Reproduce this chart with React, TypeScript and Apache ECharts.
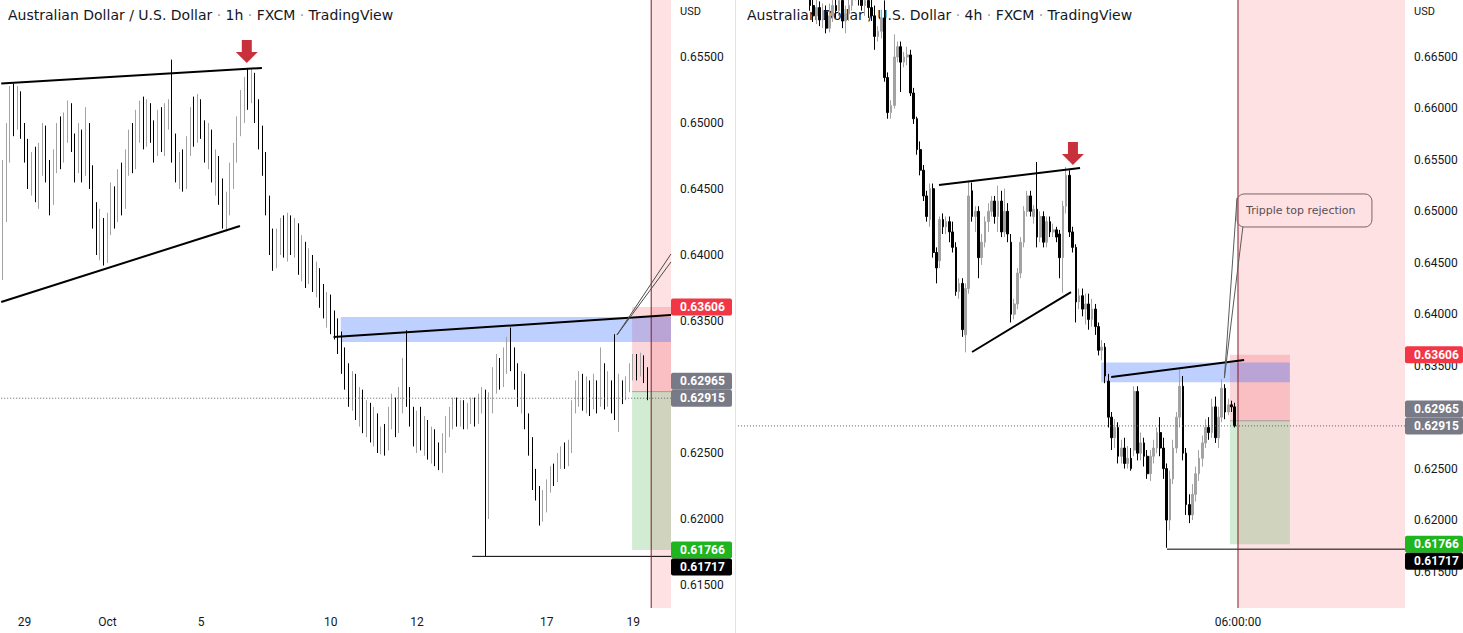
import React, { useEffect, useRef } from 'react';
import * as echarts from 'echarts';

const PIP = 0.0001;

// AUD/USD, left panel candles [open, close, low, high] in pips (x 0.0001)
const leftCandles: number[][] = [
  [6400,6430,6381,6472],[6430,6480,6425,6500],[6480,6515,6470,6528],[6515,6505,6490,6530],[6505,6520,6495,6528],
  [6520,6495,6488,6524],[6495,6480,6470,6500],[6480,6460,6450,6488],[6460,6470,6445,6478],[6470,6450,6440,6482],
  [6450,6470,6435,6485],[6470,6490,6460,6500],[6490,6465,6455,6498],[6465,6445,6430,6472],[6445,6470,6438,6480],
  [6470,6490,6462,6500],[6490,6475,6465,6505],[6475,6495,6470,6508],[6495,6510,6485,6517],[6510,6485,6478,6515],
  [6485,6470,6455,6492],[6470,6490,6462,6500],[6490,6465,6455,6495],[6465,6495,6460,6512],[6495,6460,6450,6500],
  [6460,6430,6420,6468],[6430,6410,6400,6440],[6410,6420,6396,6435],[6420,6400,6392,6428],[6400,6425,6394,6432],
  [6425,6445,6415,6455],[6445,6430,6420,6452],[6430,6455,6425,6465],[6455,6440,6430,6470],[6440,6470,6435,6480],
  [6470,6485,6460,6495],[6485,6470,6462,6500],[6470,6495,6465,6510],[6495,6505,6485,6517],[6505,6490,6480,6520],
  [6490,6510,6482,6518],[6510,6495,6485,6515],[6495,6480,6470,6502],[6480,6500,6475,6510],[6500,6485,6478,6512],
  [6485,6505,6475,6515],[6505,6510,6495,6518],[6510,6485,6470,6548],[6485,6465,6455,6492],[6465,6470,6450,6478],
  [6470,6455,6448,6480],[6455,6480,6450,6490],[6480,6500,6475,6512],[6500,6490,6482,6520],[6490,6510,6485,6522],
  [6510,6495,6488,6518],[6495,6480,6470,6502],[6480,6490,6465,6500],[6490,6465,6455,6495],[6465,6470,6445,6480],
  [6470,6450,6438,6475],[6450,6430,6420,6458],[6430,6440,6418,6448],[6440,6460,6430,6470],[6460,6475,6450,6485],
  [6475,6500,6470,6505],[6500,6510,6490,6525],[6510,6530,6500,6535],[6530,6520,6510,6541],[6520,6535,6515,6541],
  [6535,6510,6500,6538],[6510,6490,6480,6518],[6490,6470,6460,6498],[6470,6440,6430,6478],[6440,6410,6400,6445],
  [6410,6395,6388,6420],[6395,6410,6390,6420],[6410,6420,6400,6428],[6420,6405,6398,6430],[6405,6425,6395,6432],
  [6425,6410,6400,6430],[6410,6420,6398,6428],[6420,6395,6385,6424],[6395,6405,6380,6415],[6405,6385,6375,6410],
  [6385,6395,6378,6405],[6395,6380,6372,6400],[6380,6385,6368,6395],[6385,6370,6360,6390],[6370,6360,6352,6378],
  [6360,6365,6345,6372],[6365,6350,6340,6370],[6350,6345,6336,6358],[6345,6335,6325,6352],[6335,6320,6310,6342],
  [6320,6310,6298,6330],[6310,6295,6285,6318],[6295,6305,6282,6312],[6305,6285,6275,6310],[6285,6292,6270,6300],
  [6292,6275,6265,6298],[6275,6282,6262,6290],[6282,6268,6258,6288],[6268,6275,6255,6285],[6275,6258,6250,6280],
  [6258,6262,6249,6270],[6262,6255,6248,6272],[6255,6275,6252,6285],[6275,6285,6268,6295],[6285,6270,6262,6292],
  [6270,6290,6265,6300],[6290,6305,6280,6322],[6305,6295,6285,6343],[6295,6280,6270,6300],[6280,6262,6255,6285],
  [6262,6275,6250,6282],[6275,6260,6252,6285],[6260,6270,6248,6278],[6270,6255,6245,6275],[6255,6262,6242,6270],
  [6262,6250,6240,6268],[6250,6245,6237,6258],[6245,6260,6235,6265],[6260,6270,6250,6278],[6270,6275,6262,6285],
  [6275,6285,6268,6292],[6285,6278,6270,6292],[6278,6282,6270,6290],[6282,6275,6268,6290],[6275,6280,6268,6288],
  [6280,6285,6272,6292],[6285,6278,6270,6292],[6278,6288,6272,6295],[6288,6292,6280,6300],[6292,6205,6172,6298],
  [6205,6290,6200,6296],[6290,6300,6280,6315],[6300,6315,6295,6325],[6315,6305,6298,6322],[6305,6320,6300,6330],
  [6320,6330,6310,6338],[6330,6320,6312,6345],[6320,6310,6298,6330],[6310,6295,6285,6318],[6295,6305,6280,6312],
  [6305,6275,6268,6310],[6275,6255,6248,6280],[6255,6230,6222,6262],[6230,6220,6214,6238],[6220,6205,6195,6225],
  [6205,6215,6198,6222],[6215,6225,6205,6230],[6225,6235,6220,6240],[6235,6232,6225,6242],[6232,6245,6228,6250],
  [6245,6250,6238,6255],[6250,6245,6238,6258],[6245,6255,6240,6260],[6255,6285,6250,6290],[6285,6295,6280,6305],
  [6295,6300,6285,6312],[6300,6290,6282,6310],[6290,6300,6280,6308],[6300,6288,6278,6305],[6288,6300,6283,6310],
  [6300,6292,6280,6305],[6292,6310,6285,6330],[6310,6295,6283,6318],[6295,6300,6285,6312],[6300,6290,6280,6305],
  [6290,6278,6275,6340],[6278,6300,6266,6310],[6300,6295,6287,6305],[6295,6300,6290,6308],[6300,6310,6296,6318],
  [6310,6318,6305,6325],[6318,6312,6305,6325],[6312,6320,6308,6326],[6320,6310,6303,6324],[6310,6291.5,6290,6315],
];

// right panel (4h) candles [open, close, low, high] in pips, first one at bar rightFirstIndex
const rightFirstIndex = 24;
const rightCandles: number[][] = [
  [6712,6700,6695,6725],[6700,6690,6684,6708],[6690,6698,6682,6706],[6698,6686,6680,6704],[6686,6694,6678,6702],
  [6694,6678,6673,6700],[6678,6690,6674,6702],[6690,6700,6684,6712],[6700,6695,6688,6715],[6695,6705,6690,6718],
  [6705,6685,6678,6710],[6685,6692,6673,6700],[6692,6700,6685,6712],[6700,6712,6695,6725],[6712,6718,6705,6730],
  [6718,6710,6700,6728],[6710,6700,6695,6715],[6700,6705,6690,6712],[6705,6698,6688,6712],[6698,6690,6685,6710],
  [6690,6670,6657,6700],[6670,6675,6665,6680],[6675,6688,6668,6696],[6688,6630,6626,6705],[6630,6596,6590,6635],
  [6596,6603,6590,6608],[6603,6650,6600,6672],[6650,6660,6645,6665],[6660,6645,6616,6665],[6645,6650,6640,6655],
  [6650,6652,6642,6660],[6652,6615,6612,6657],[6615,6590,6585,6620],[6590,6560,6555,6592],[6560,6540,6535,6568],
  [6540,6515,6510,6545],[6515,6495,6490,6520],[6492,6522,6485,6527],[6522,6460,6455,6527],[6460,6445,6430,6465],
  [6452,6492,6445,6495],[6492,6485,6478,6498],[6485,6490,6478,6495],[6490,6480,6470,6495],[6480,6465,6460,6490],
  [6465,6422,6418,6470],[6422,6430,6415,6435],[6430,6385,6378,6435],[6380,6425,6363,6430],[6425,6515,6420,6530],
  [6520,6495,6490,6528],[6495,6500,6480,6505],[6500,6455,6435,6505],[6455,6470,6448,6478],[6470,6490,6465,6495],
  [6490,6500,6480,6508],[6500,6510,6495,6515],[6510,6495,6488,6515],[6495,6510,6480,6525],[6510,6480,6475,6520],
  [6480,6500,6475,6522],[6500,6478,6470,6508],[6470,6400,6392,6478],[6400,6410,6395,6415],[6410,6440,6405,6445],
  [6440,6470,6435,6475],[6470,6500,6465,6505],[6500,6515,6495,6520],[6515,6500,6495,6520],[6495,6502,6488,6506],
  [6502,6475,6465,6548],[6475,6495,6470,6500],[6495,6470,6465,6500],[6470,6490,6465,6495],[6490,6480,6475,6495],
  [6480,6482,6475,6488],[6482,6475,6470,6485],[6478,6455,6435,6482],[6455,6505,6421,6510],[6505,6535,6498,6543],
  [6535,6480,6475,6540],[6480,6465,6460,6485],[6465,6412,6392,6468],[6412,6418,6405,6425],[6418,6405,6398,6425],
  [6405,6410,6390,6420],[6410,6395,6385,6420],[6395,6405,6388,6415],[6405,6388,6380,6410],[6388,6365,6360,6392],
  [6365,6368,6355,6375],[6368,6340,6333,6372],[6335,6300,6290,6342],[6300,6280,6268,6305],[6280,6290,6270,6298],
  [6290,6262,6255,6295],[6262,6270,6255,6278],[6270,6255,6250,6280],[6255,6260,6250,6272],[6260,6250,6248,6270],
  [6268,6325,6262,6330],[6325,6265,6258,6330],[6265,6275,6258,6285],[6275,6262,6252,6280],[6262,6245,6240,6268],
  [6245,6262,6238,6268],[6262,6270,6255,6278],[6270,6285,6265,6290],[6285,6270,6262,6300],[6270,6250,6240,6280],
  [6250,6200,6173,6255],[6200,6240,6190,6248],[6240,6270,6235,6278],[6270,6300,6265,6305],[6300,6330,6290,6347],
  [6330,6265,6258,6340],[6265,6215,6205,6270],[6215,6205,6197,6225],[6205,6225,6200,6235],[6225,6245,6218,6252],
  [6245,6260,6238,6268],[6260,6275,6252,6282],[6275,6290,6270,6298],[6290,6285,6278,6300],[6285,6310,6280,6318],
  [6310,6280,6275,6320],[6280,6300,6270,6310],[6300,6328,6295,6337],[6328,6305,6298,6332],[6305,6312,6302,6318],
  [6312,6310,6305,6316],[6310,6291.5,6290,6314],
];

// axes
const leftSlotCount = 186;
const rightSlotCount = 208;
const leftDayLabels = ['29', 'Oct', '5', '10', '12', '17', '19'];
const leftDayIndex = [6, 29, 55, 91, 115, 151, 175];
const rightTimeLabels = ['06:00:00'];
const rightTimeIndex = [156];
const leftPriceRange = [0.613258, 0.659318];
const rightPriceRange = [0.611453, 0.670539];
const priceStep = 0.005;
const hideLabelsAbove = [0.6595, 0.6680];
const coveredTicks = [0.63];

// trade levels
const stopPrice = 0.63606;
const entryPrice = 0.62965;
const lastPrice = 0.62915;
const targetPrice = 0.61766;
const swingLowPrice = 0.61717;
const zonePrices = [0.6353, 0.6334];

// drawings, as [bar index, price]
const leftWedgeUpper = [[-0.5, 0.6530], [71.9, 0.65417]];
const leftWedgeLower = [[-0.5, 0.63644], [65.8, 0.6422]];
const leftResistance = [[91.8, 0.63379], [185.5, 0.63545]];
const leftZoneSpan = [93.8, 185.5];
const leftTradeSpan = [174.7, 185.5];
const leftNowIndex = 180;
const leftLowSpan = [130.3, 185.5];
const leftArrowTip = [67.7, 0.65455];
const leftCalloutFrom = [170.5, 0.63394];
const leftCalloutTo = [[185.5, 0.64008], [185.5, 0.63947]];
const leftEdge = [-0.5, 185.5];

const rightWedgeUpper = [[63.8, 0.65256], [107.3, 0.65421]];
const rightWedgeLower = [[74.0, 0.63633], [104.5, 0.64216]];
const rightResistance = [[116.9, 0.6339], [157.9, 0.63555]];
const rightZoneSpan = [113.8, 172.0];
const rightTradeSpan = [153.5, 172.0];
const rightNowIndex = 156;
const rightLowSpan = [134.1, 207.5];
const rightArrowTip = [105.1, 0.6545];
const rightEdge = [1.8, 207.5];
const calloutText = 'Tripple top rejection';
const calloutBox = [[155.7, 0.65169], [197.3, 0.64848]];
const calloutTail = [[155.7, 0.6513], [151.8, 0.6338], [157.5, 0.64848]];

const titleParts = ['Australian Dollar / U.S. Dollar', 'FXCM', 'TradingView'];
const intervals = ['1h', '4h'];

const FONT = 'Roboto, "Noto Sans", sans-serif';
const TITLE_FONT = '"DejaVu Sans", Roboto, sans-serif';
const TEXT = '#131722';
const UP = '#a3a3a3';
const DOWN = '#000000';

function toOhlc(rows: number[][]) {
  return rows.map((r) => r.map((v) => +(v * PIP).toFixed(5)));
}

function priceLabel(limit: number) {
  return (v: number) => {
    const k = v / priceStep;
    if (Math.abs(k - Math.round(k)) > 1e-6) return '';
    if (v > limit) return '';
    if (coveredTicks.some((t) => Math.abs(t - v) < 1e-7)) return '';
    return v.toFixed(5);
  };
}

function buildOption() {
  const leftCats = Array.from({ length: leftSlotCount }, (_, i) => 'L' + i);
  const rightCats = Array.from({ length: rightSlotCount }, (_, i) => 'R' + i);
  const rightData: any[] = Array.from({ length: rightFirstIndex }, () => ['-', '-', '-', '-']).concat(
    toOhlc(rightCandles)
  );
  const xAxisBase = {
    type: 'category',
    boundaryGap: true,
    axisLine: { show: false },
    axisTick: { show: false },
    splitLine: { show: false },
  };
  const yAxisBase = {
    type: 'value',
    position: 'right',
    minInterval: priceStep,
    maxInterval: priceStep,
    axisLine: { show: false },
    axisTick: { show: false },
    splitLine: { show: false },
  };
  return {
    animation: false,
    backgroundColor: '#ffffff',
    grid: [
      { left: 0, top: 0, width: 671, height: 608 },
      { left: 730.5, top: 0, width: 674.5, height: 608 },
    ],
    xAxis: [
      {
        ...xAxisBase,
        gridIndex: 0,
        data: leftCats,
        axisLabel: {
          interval: 0,
          margin: 8,
          color: TEXT,
          fontSize: 12,
          fontFamily: FONT,
          formatter: (_v: string, i: number) => {
            const k = leftDayIndex.indexOf(i);
            return k >= 0 ? leftDayLabels[k] : '';
          },
        },
      },
      {
        ...xAxisBase,
        gridIndex: 1,
        data: rightCats,
        axisLabel: {
          interval: 0,
          margin: 8,
          color: TEXT,
          fontSize: 12,
          fontFamily: FONT,
          formatter: (_v: string, i: number) => {
            const k = rightTimeIndex.indexOf(i);
            return k >= 0 ? rightTimeLabels[k] : '';
          },
        },
      },
    ],
    yAxis: [
      {
        ...yAxisBase,
        gridIndex: 0,
        min: leftPriceRange[0],
        max: leftPriceRange[1],
        axisLabel: { margin: 9, color: TEXT, fontSize: 12, fontFamily: FONT, formatter: priceLabel(hideLabelsAbove[0]) },
      },
      {
        ...yAxisBase,
        gridIndex: 1,
        min: rightPriceRange[0],
        max: rightPriceRange[1],
        axisLabel: { margin: 9, color: TEXT, fontSize: 12, fontFamily: FONT, formatter: priceLabel(hideLabelsAbove[1]) },
      },
    ],
    series: [
      {
        type: 'candlestick',
        xAxisIndex: 0,
        yAxisIndex: 0,
        data: toOhlc(leftCandles),
        barWidth: 1,
        clip: true,
        z: 3,
        itemStyle: { color: UP, color0: DOWN, borderColor: UP, borderColor0: DOWN, borderWidth: 1 },
      },
      {
        type: 'candlestick',
        xAxisIndex: 1,
        yAxisIndex: 1,
        data: rightData,
        barWidth: 2.2,
        clip: true,
        z: 3,
        itemStyle: { color: UP, color0: DOWN, borderColor: UP, borderColor0: DOWN, borderWidth: 1 },
      },
    ],
  };
}

function buildGraphics(chart: any) {
  const X = (g: number, i: number) => {
    const a = chart.convertToPixel({ xAxisIndex: g }, 0) as number;
    const b = chart.convertToPixel({ xAxisIndex: g }, 1) as number;
    return a + (b - a) * i;
  };
  const Y = (g: number, p: number) => chart.convertToPixel({ yAxisIndex: g }, p) as number;
  const els: any[] = [];

  const rect = (g: number, i0: number, i1: number, p0: number, p1: number, fill: string, z: number) => {
    const x0 = X(g, i0), x1 = X(g, i1), y0 = Y(g, p0), y1 = Y(g, p1);
    els.push({
      type: 'rect', silent: true, z,
      shape: { x: Math.min(x0, x1), y: Math.min(y0, y1), width: Math.abs(x1 - x0), height: Math.abs(y1 - y0) },
      style: { fill },
    });
  };
  const seg = (g: number, a: number[], b: number[], stroke: string, lineWidth: number, z: number, lineDash?: number[]) => {
    els.push({
      type: 'line', silent: true, z,
      shape: { x1: X(g, a[0]), y1: Y(g, a[1]), x2: X(g, b[0]), y2: Y(g, b[1]) },
      style: { stroke, lineWidth, lineDash: lineDash || null },
    });
  };
  const arrow = (g: number, tip: number[]) => {
    const tx = X(g, tip[0]), ty = Y(g, tip[1]);
    els.push({
      type: 'polygon', silent: true, z: 6,
      shape: {
        points: [
          [tx - 11, ty - 11], [tx - 5, ty - 11], [tx - 5, ty - 23], [tx + 5, ty - 23],
          [tx + 5, ty - 11], [tx + 11, ty - 11], [tx, ty],
        ],
      },
      style: { fill: '#c8303c' },
    });
  };
  const tag = (g: number, edge: number, y: number, fill: string, text: string, width: number) => {
    const x0 = X(g, edge);
    els.push({ type: 'rect', silent: true, z: 10, shape: { x: x0, y: y - 8.5, width, height: 17, r: 2 }, style: { fill } });
    els.push({
      type: 'text', silent: true, z: 11, x: x0 + 9, y,
      style: { text, fill: '#ffffff', font: 'bold 12px ' + FONT, verticalAlign: 'middle', textVerticalAlign: 'middle' },
    });
  };

  const panels = [
    {
      g: 0, range: leftPriceRange, edge: leftEdge, now: leftNowIndex, trade: leftTradeSpan, zone: leftZoneSpan,
      low: leftLowSpan, wedges: [leftWedgeUpper, leftWedgeLower], res: leftResistance, tip: leftArrowTip,
      tagWidth: 61, titleX: 8, interval: intervals[0],
    },
    {
      g: 1, range: rightPriceRange, edge: rightEdge, now: rightNowIndex, trade: rightTradeSpan, zone: rightZoneSpan,
      low: rightLowSpan, wedges: [rightWedgeUpper, rightWedgeLower], res: rightResistance, tip: rightArrowTip,
      tagWidth: 58, titleX: 747, interval: intervals[1],
    },
  ];

  panels.forEach((p) => {
    const { g } = p;
    // title
    els.push({
      type: 'text', silent: true, z: 1, x: p.titleX, y: 15,
      style: {
        text: `{a|${titleParts[0]}}{s| · }{a|${p.interval}}{s| · }{a|${titleParts[1]}}{s| · }{a|${titleParts[2]}}`,
        rich: {
          a: { fill: TEXT, fontSize: 14, fontFamily: TITLE_FONT },
          s: { fill: '#9598a1', fontSize: 14, fontFamily: TITLE_FONT },
        },
        verticalAlign: 'middle', textVerticalAlign: 'middle',
      },
    });
    // future area + trade boxes + zone
    rect(g, p.now, p.edge[1], p.range[0], p.range[1], 'rgba(242,54,69,0.15)', 1);
    rect(g, p.trade[0], p.trade[1], stopPrice, entryPrice, 'rgba(242,54,69,0.2)', 1);
    rect(g, p.trade[0], p.trade[1], entryPrice, targetPrice, 'rgba(76,175,80,0.25)', 1);
    seg(g, [p.trade[0], entryPrice], [p.trade[1], entryPrice], 'rgba(120,123,134,0.6)', 1, 1);
    rect(g, p.zone[0], p.zone[1], zonePrices[0], zonePrices[1], 'rgba(41,98,255,0.3)', 1);
    // lines
    seg(g, [p.edge[0], lastPrice], [p.edge[1], lastPrice], '#5d606b', 1, 5, [1, 2]);
    seg(g, [p.low[0], swingLowPrice], [p.low[1], swingLowPrice], '#000000', 1, 5);
    seg(g, [p.now, p.range[1]], [p.now, p.range[0]], '#861a28', 1, 5);
    p.wedges.forEach((w) => seg(g, w[0], w[1], '#000000', 2, 5));
    seg(g, p.res[0], p.res[1], '#000000', 2, 5);
    arrow(g, p.tip);
    // axis currency + price tags
    const ax = X(g, p.edge[1]);
    els.push({
      type: 'text', silent: true, z: 4, x: ax + 9, y: 11,
      style: { text: 'USD', fill: TEXT, font: '11px ' + FONT, verticalAlign: 'middle', textVerticalAlign: 'middle' },
    });
    const yLast = Y(g, lastPrice);
    const yTarget = Y(g, targetPrice);
    tag(g, p.edge[1], Y(g, stopPrice), '#f23645', stopPrice.toFixed(5), p.tagWidth);
    tag(g, p.edge[1], yLast - 17, '#787b86', entryPrice.toFixed(5), p.tagWidth);
    tag(g, p.edge[1], yLast, '#787b86', lastPrice.toFixed(5), p.tagWidth);
    tag(g, p.edge[1], yTarget, '#1fb51f', targetPrice.toFixed(5), p.tagWidth);
    tag(g, p.edge[1], yTarget + 17, '#000000', swingLowPrice.toFixed(5), p.tagWidth);
  });

  // left callout tail (box lies off screen)
  leftCalloutTo.forEach((t) => seg(0, leftCalloutFrom, t, '#4a4a4a', 1, 5));

  // right callout
  const bx0 = X(1, calloutBox[0][0]), by0 = Y(1, calloutBox[0][1]);
  const bx1 = X(1, calloutBox[1][0]), by1 = Y(1, calloutBox[1][1]);
  els.push({
    type: 'rect', silent: true, z: 6,
    shape: { x: bx0, y: by0, width: bx1 - bx0, height: by1 - by0, r: 7 },
    style: { fill: 'rgba(255,255,255,0)', stroke: '#7d6468', lineWidth: 1 },
  });
  els.push({
    type: 'polyline', silent: true, z: 6,
    shape: { points: calloutTail.map((c) => [X(1, c[0]), Y(1, c[1])]) },
    style: { stroke: '#5a5a5a', lineWidth: 1, fill: null },
  });
  els.push({
    type: 'text', silent: true, z: 7, x: bx0 + 9, y: (by0 + by1) / 2,
    style: { text: calloutText, fill: '#5b4f52', font: '11px ' + TITLE_FONT, verticalAlign: 'middle', textVerticalAlign: 'middle' },
  });

  // panel separator
  els.push({
    type: 'line', silent: true, z: 4,
    shape: { x1: 735.5, y1: 0, x2: 735.5, y2: 633 },
    style: { stroke: '#e0e3eb', lineWidth: 1 },
  });
  return els;
}

export default function App() {
  const ref = useRef<HTMLDivElement>(null);
  useEffect(() => {
    document.body.style.margin = '0';
    const chart = echarts.init(ref.current as HTMLDivElement, null, { renderer: 'svg' });
    chart.setOption(buildOption() as any);
    chart.setOption({ graphic: buildGraphics(chart) } as any);
    return () => chart.dispose();
  }, []);
  return <div ref={ref} style={{ width: 1463, height: 633 }} />;
}
